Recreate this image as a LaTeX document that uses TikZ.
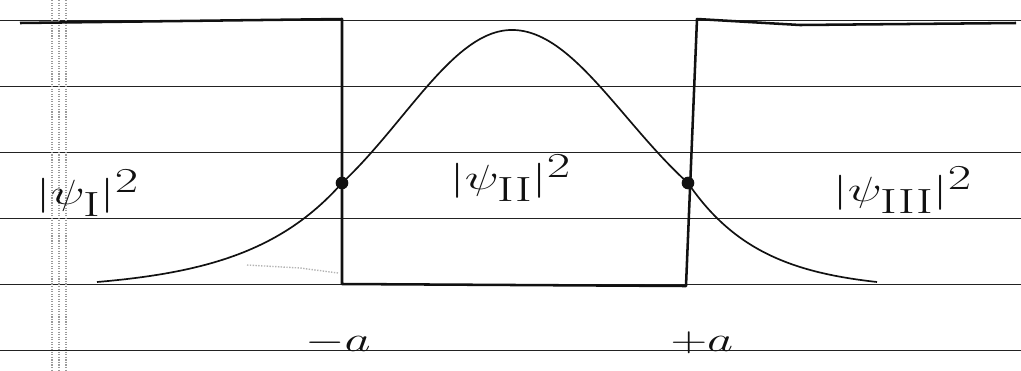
\documentclass[tikz,border=0pt]{standalone}
\usepackage{amsmath}
\usepackage{xcolor}
\usepackage{tikz}
\definecolor{ink}{HTML}{111111}
\definecolor{ruling}{HTML}{222222}
\definecolor{margin}{HTML}{9A9A9A}
\definecolor{smudge}{HTML}{B4B4B4}
\newcommand{\handwide}[1]{\scalebox{1.45}[1]{#1}}
\tikzset{
  ruleline/.style={draw=ruling,line width=0.5pt},
  marginline/.style={draw=margin,densely dotted,line width=0.8pt},
  wellline/.style={draw=ink,line width=1.8pt,line join=round},
  waveline/.style={draw=ink,line width=1.2pt,samples=60},
  joint/.style={circle,fill=ink,inner sep=0pt,minimum size=9pt},
  handlabel/.style={font=\fontsize{46}{52}\selectfont,text=ink,inner sep=0pt}
}

\begin{document}
\begin{tikzpicture}[x=0.025cm,y=-0.025cm]
\useasboundingbox (0,0) rectangle (1021,370);
% ruled paper
\foreach \ry in {20,86,152,218,284,350}
  \draw[ruleline] (0,\ry) -- (1021,\ry);
\foreach \mx in {52,59,66}
  \draw[marginline] (\mx,0) -- (\mx,370);
% finite well
\draw[wellline] (20,23) -- (342,19) -- (342,284) -- (686,286) -- (697,19) -- (800,25) -- (1016,23);
% probability density: decaying tails, bump inside
\draw[waveline] plot[domain=97:342] (\x,{290-107*exp((\x-342)/94.5)});
\draw[waveline] plot[domain=342:512] (\x,{250-220*exp(-((\x-512)/155.9)*((\x-512)/155.9))});
\draw[waveline] plot[domain=512:688] (\x,{250-220*exp(-((\x-512)/161.4)*((\x-512)/161.4))});
\draw[waveline] plot[domain=688:877] (\x,{290-107*exp(-(\x-688)/72.9)});
\draw[smudge,densely dotted,line width=1pt] (247,265) -- (300,268) -- (338,273);
% matching points
\node[joint] (jointL) at (342,183) {};
\node[joint] (jointR) at (688,183) {};
% labels
\node[handlabel] (densI) at (88,193) {\handwide{$|\psi_{\mathrm{I}}|^2$}};
\node[handlabel] (densII) at (511,178) {\handwide{$|\psi_{\mathrm{II}}|^2$}};
\node[handlabel] (densIII) at (903,190) {\handwide{$|\psi_{\mathrm{III}}|^2$}};
\node[handlabel] (minusA) at (338,343) {\handwide{$-a$}};
\node[handlabel] (plusA) at (702,343) {\handwide{$+a$}};
\end{tikzpicture}
\end{document}
